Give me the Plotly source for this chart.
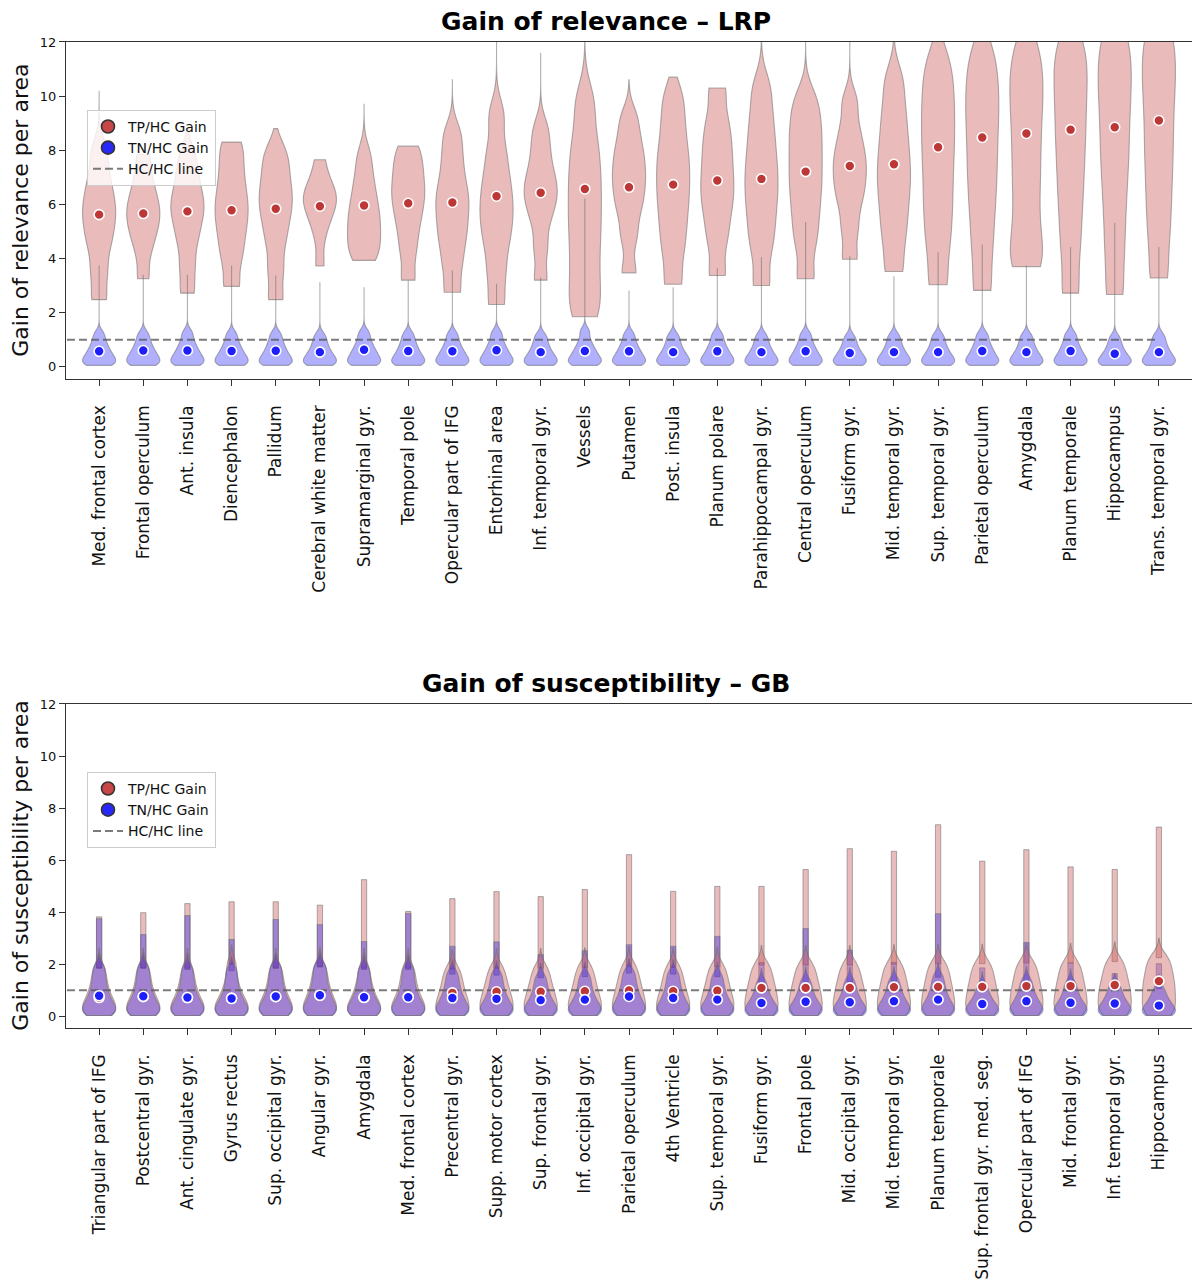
import plotly.graph_objects as go

# ---------------- data ----------------
lrp_regions = ["Med. frontal cortex", "Frontal operculum", "Ant. insula", "Diencephalon", "Pallidum",
               "Cerebral white matter", "Supramarginal gyr.", "Temporal pole", "Opercular part of IFG",
               "Entorhinal area", "Inf. temporal gyr.", "Vessels", "Putamen", "Post. insula",
               "Planum polare", "Parahippocampal gyr.", "Central operculum", "Fusiform gyr.",
               "Mid. temporal gyr.", "Sup. temporal gyr.", "Parietal operculum", "Amygdala",
               "Planum temporale", "Hippocampus", "Trans. temporal gyr."]

# estimated distribution quantiles (min ... upper body) per area, TP/HC gain (LRP)
lrp_tp_q = [
    [2.48, 3.5, 4.4, 5.0, 5.5, 5.95, 6.45, 7.1, 8.0],
    [3.25, 4.3, 4.9, 5.3, 5.65, 6.0, 6.4, 7.0, 7.85],
    [2.72, 3.7, 4.6, 5.2, 5.7, 6.05, 6.5, 7.1, 7.8],
    [2.97, 4.0, 4.7, 5.3, 5.8, 6.3, 6.9, 7.6, 8.3],
    [2.48, 3.6, 4.6, 5.3, 5.85, 6.3, 6.8, 7.4, 8.0],
    [3.72, 4.9, 5.5, 5.85, 6.1, 6.3, 6.55, 6.9, 7.65],
    [3.93, 4.3, 4.7, 5.1, 5.5, 5.9, 6.4, 7.0, 7.8],
    [3.2, 4.3, 5.1, 5.7, 6.2, 6.6, 7.1, 7.6, 8.15],
    [2.75, 3.8, 4.6, 5.2, 5.8, 6.3, 6.9, 7.7, 8.6],
    [2.3, 3.5, 4.5, 5.2, 5.8, 6.4, 7.1, 8.0, 9.3],
    [3.2, 4.4, 5.4, 6.0, 6.4, 6.8, 7.3, 8.0, 8.8],
    [1.85, 2.7, 3.7, 4.7, 5.6, 6.5, 7.4, 8.4, 9.8],
    [3.47, 4.8, 5.7, 6.3, 6.8, 7.3, 7.8, 8.4, 9.2],
    [3.05, 4.3, 5.2, 6.0, 6.7, 7.4, 8.1, 9.0, 10.0],
    [3.37, 4.7, 5.6, 6.3, 6.9, 7.6, 8.3, 9.1, 10.3],
    [3.0, 4.4, 5.3, 6.1, 6.8, 7.5, 8.3, 9.2, 10.3],
    [3.25, 4.6, 5.5, 6.3, 7.0, 7.7, 8.4, 9.1, 9.9],
    [3.97, 5.1, 6.0, 6.6, 7.1, 7.6, 8.1, 8.8, 9.8],
    [3.52, 4.7, 5.6, 6.4, 7.1, 7.8, 8.6, 9.5, 10.6],
    [3.03, 4.5, 5.6, 6.6, 7.6, 8.5, 9.4, 10.3, 11.3],
    [2.82, 4.4, 5.7, 6.8, 7.8, 8.8, 9.7, 10.6, 11.6],
    [3.7, 4.3, 5.5, 6.7, 7.8, 8.9, 9.9, 10.8, 11.8],
    [2.72, 4.5, 5.9, 7.1, 8.2, 9.2, 10.2, 11.1, 12.0],
    [2.67, 4.4, 5.9, 7.2, 8.3, 9.4, 10.4, 11.3, 12.3],
    [3.28, 4.9, 6.2, 7.4, 8.5, 9.6, 10.6, 11.5, 12.5],
]
lrp_tp_max = [10.2, 7.85, 8.8, 8.3, 8.8, 7.65, 9.72, 8.15, 10.6, 13.0, 11.6, 13.0, 10.6, 10.7,
              10.3, 13.5, 13.0, 13.0, 13.5, 13.5, 13.5, 14.0, 14.0, 14.5, 14.5]
lrp_tp_center = [5.62, 5.66, 5.74, 5.78, 5.84, 5.93, 5.96, 6.04, 6.07, 6.30, 6.43, 6.57, 6.63,
                 6.73, 6.88, 6.94, 7.21, 7.42, 7.48, 8.11, 8.47, 8.62, 8.76, 8.85, 9.10]

# TN/HC gain (LRP)
lrp_tn_q = [
    [0.05, 0.12, 0.2, 0.3, 0.42, 0.55, 0.71, 0.92, 1.2],
    [0.05, 0.12, 0.21, 0.31, 0.43, 0.56, 0.72, 0.93, 1.2],
    [0.05, 0.12, 0.21, 0.31, 0.43, 0.57, 0.73, 0.95, 1.25],
    [0.05, 0.12, 0.2, 0.3, 0.42, 0.55, 0.71, 0.92, 1.2],
    [0.05, 0.12, 0.2, 0.3, 0.42, 0.56, 0.72, 0.93, 1.2],
    [0.05, 0.11, 0.19, 0.29, 0.4, 0.53, 0.69, 0.9, 1.15],
    [0.05, 0.12, 0.21, 0.32, 0.44, 0.58, 0.74, 0.96, 1.25],
    [0.05, 0.12, 0.2, 0.3, 0.42, 0.56, 0.72, 0.93, 1.2],
    [0.05, 0.12, 0.2, 0.3, 0.42, 0.55, 0.71, 0.92, 1.2],
    [0.05, 0.12, 0.21, 0.31, 0.43, 0.57, 0.73, 0.95, 1.25],
    [0.05, 0.11, 0.19, 0.29, 0.4, 0.53, 0.69, 0.9, 1.15],
    [0.05, 0.12, 0.2, 0.3, 0.42, 0.56, 0.72, 0.95, 1.3],
    [0.05, 0.12, 0.2, 0.3, 0.42, 0.55, 0.71, 0.92, 1.2],
    [0.05, 0.11, 0.19, 0.29, 0.4, 0.53, 0.69, 0.9, 1.15],
    [0.05, 0.12, 0.2, 0.3, 0.42, 0.55, 0.71, 0.92, 1.2],
    [0.05, 0.11, 0.19, 0.29, 0.4, 0.53, 0.69, 0.9, 1.15],
    [0.05, 0.12, 0.2, 0.3, 0.42, 0.55, 0.71, 0.92, 1.2],
    [0.05, 0.1, 0.18, 0.27, 0.38, 0.5, 0.65, 0.85, 1.1],
    [0.05, 0.11, 0.19, 0.29, 0.4, 0.53, 0.69, 0.9, 1.15],
    [0.05, 0.11, 0.19, 0.29, 0.4, 0.53, 0.69, 0.9, 1.15],
    [0.05, 0.12, 0.2, 0.3, 0.42, 0.56, 0.72, 0.93, 1.2],
    [0.05, 0.11, 0.19, 0.29, 0.4, 0.53, 0.69, 0.9, 1.15],
    [0.05, 0.12, 0.2, 0.3, 0.42, 0.56, 0.72, 0.93, 1.2],
    [0.05, 0.1, 0.17, 0.26, 0.36, 0.48, 0.63, 0.83, 1.08],
    [0.05, 0.11, 0.19, 0.29, 0.4, 0.53, 0.69, 0.9, 1.15],
]
lrp_tn_max = [3.74, 3.4, 3.4, 3.74, 3.37, 3.12, 2.94, 3.2, 3.56, 3.07, 3.3, 6.22, 2.82, 2.94,
              3.64, 4.05, 5.35, 4.1, 3.34, 4.23, 4.52, 3.74, 4.42, 5.32, 4.42]
lrp_tn_center = [0.57, 0.60, 0.60, 0.58, 0.59, 0.54, 0.63, 0.58, 0.57, 0.61, 0.54, 0.58, 0.57,
                 0.54, 0.57, 0.54, 0.57, 0.51, 0.54, 0.54, 0.58, 0.54, 0.58, 0.48, 0.54]

gb_regions = ["Triangular part of IFG", "Postcentral gyr.", "Ant. cingulate gyr.", "Gyrus rectus",
              "Sup. occipital gyr.", "Angular gyr.", "Amygdala", "Med. frontal cortex",
              "Precentral gyr.", "Supp. motor cortex", "Sup. frontal gyr.", "Inf. occipital gyr.",
              "Parietal operculum", "4th Ventricle", "Sup. temporal gyr.", "Fusiform gyr.",
              "Frontal pole", "Mid. occipital gyr.", "Mid. temporal gyr.", "Planum temporale",
              "Sup. frontal gyr. med. seg.", "Opercular part of IFG", "Mid. frontal gyr.",
              "Inf. temporal gyr.", "Hippocampus"]

# TP/HC gain (GB)
gb_tp_q = [
    [0.03, 0.14, 0.27, 0.42, 0.6, 0.82, 1.1, 1.45, 1.85],
    [0.03, 0.14, 0.27, 0.42, 0.6, 0.82, 1.1, 1.45, 1.85],
    [0.03, 0.14, 0.27, 0.41, 0.58, 0.8, 1.08, 1.42, 1.85],
    [0.03, 0.13, 0.26, 0.4, 0.56, 0.78, 1.05, 1.45, 2.0],
    [0.03, 0.14, 0.27, 0.42, 0.6, 0.82, 1.1, 1.45, 1.85],
    [0.03, 0.15, 0.29, 0.45, 0.64, 0.87, 1.15, 1.5, 1.9],
    [0.03, 0.12, 0.25, 0.39, 0.56, 0.78, 1.05, 1.4, 1.85],
    [0.03, 0.14, 0.27, 0.42, 0.6, 0.82, 1.1, 1.45, 1.85],
    [0.03, 0.17, 0.33, 0.5, 0.7, 0.92, 1.18, 1.48, 1.82],
    [0.03, 0.18, 0.35, 0.53, 0.73, 0.95, 1.2, 1.5, 1.85],
    [0.03, 0.18, 0.35, 0.53, 0.73, 0.95, 1.2, 1.5, 1.85],
    [0.03, 0.18, 0.36, 0.54, 0.74, 0.97, 1.23, 1.53, 1.88],
    [0.03, 0.19, 0.37, 0.56, 0.77, 1.0, 1.26, 1.56, 1.92],
    [0.03, 0.18, 0.36, 0.54, 0.74, 0.97, 1.23, 1.53, 1.88],
    [0.03, 0.19, 0.37, 0.56, 0.76, 0.99, 1.25, 1.55, 1.9],
    [0.03, 0.2, 0.4, 0.61, 0.83, 1.06, 1.32, 1.62, 1.97],
    [0.03, 0.2, 0.4, 0.61, 0.83, 1.06, 1.32, 1.62, 1.97],
    [0.03, 0.2, 0.4, 0.61, 0.83, 1.06, 1.32, 1.62, 1.97],
    [0.03, 0.21, 0.42, 0.63, 0.85, 1.09, 1.35, 1.65, 2.0],
    [0.03, 0.21, 0.42, 0.64, 0.86, 1.1, 1.37, 1.67, 2.02],
    [0.03, 0.21, 0.42, 0.64, 0.86, 1.1, 1.37, 1.67, 2.02],
    [0.03, 0.22, 0.44, 0.66, 0.89, 1.13, 1.4, 1.7, 2.05],
    [0.03, 0.22, 0.44, 0.66, 0.89, 1.13, 1.4, 1.7, 2.05],
    [0.03, 0.23, 0.46, 0.69, 0.92, 1.16, 1.43, 1.74, 2.1],
    [0.03, 0.26, 0.52, 0.78, 1.04, 1.3, 1.58, 1.9, 2.25],
]
gb_tp_max = [3.82, 3.98, 4.33, 4.4, 4.4, 4.27, 5.25, 4.03, 4.52, 4.79, 4.6, 4.87, 6.21, 4.8,
             4.99, 4.99, 5.64, 6.44, 6.34, 7.36, 5.96, 6.4, 5.74, 5.64, 7.27]
gb_tp_center = [0.72, 0.75, 0.72, 0.70, 0.75, 0.80, 0.72, 0.75, 0.90, 0.94, 0.94, 0.96, 0.99,
                0.96, 0.98, 1.09, 1.09, 1.09, 1.12, 1.13, 1.13, 1.16, 1.16, 1.20, 1.35]

# TN/HC gain (GB)
gb_tn_q = [
    [0.03, 0.14, 0.27, 0.42, 0.6, 0.82, 1.1, 1.45, 1.85],
    [0.03, 0.14, 0.27, 0.42, 0.6, 0.82, 1.1, 1.45, 1.85],
    [0.03, 0.13, 0.26, 0.4, 0.57, 0.78, 1.05, 1.4, 1.8],
    [0.03, 0.12, 0.24, 0.38, 0.54, 0.74, 1.0, 1.35, 1.75],
    [0.03, 0.14, 0.27, 0.42, 0.6, 0.82, 1.1, 1.45, 1.85],
    [0.03, 0.15, 0.29, 0.45, 0.64, 0.87, 1.15, 1.5, 1.9],
    [0.03, 0.13, 0.26, 0.4, 0.57, 0.78, 1.05, 1.4, 1.8],
    [0.03, 0.13, 0.26, 0.4, 0.57, 0.78, 1.05, 1.4, 1.8],
    [0.03, 0.12, 0.24, 0.38, 0.53, 0.72, 0.96, 1.26, 1.62],
    [0.03, 0.12, 0.23, 0.36, 0.51, 0.69, 0.92, 1.22, 1.58],
    [0.03, 0.11, 0.21, 0.33, 0.47, 0.64, 0.86, 1.14, 1.48],
    [0.03, 0.11, 0.22, 0.34, 0.48, 0.66, 0.88, 1.17, 1.52],
    [0.03, 0.13, 0.26, 0.4, 0.56, 0.76, 1.0, 1.3, 1.66],
    [0.03, 0.12, 0.24, 0.38, 0.53, 0.72, 0.96, 1.26, 1.62],
    [0.03, 0.11, 0.22, 0.34, 0.48, 0.66, 0.88, 1.17, 1.52],
    [0.03, 0.09, 0.18, 0.28, 0.4, 0.54, 0.72, 0.96, 1.28],
    [0.03, 0.1, 0.19, 0.3, 0.42, 0.57, 0.76, 1.01, 1.33],
    [0.03, 0.09, 0.18, 0.29, 0.41, 0.56, 0.75, 1.0, 1.32],
    [0.03, 0.1, 0.2, 0.31, 0.44, 0.59, 0.78, 1.03, 1.35],
    [0.03, 0.11, 0.22, 0.34, 0.48, 0.65, 0.87, 1.15, 1.5],
    [0.03, 0.08, 0.16, 0.26, 0.36, 0.48, 0.64, 0.86, 1.15],
    [0.03, 0.1, 0.2, 0.31, 0.44, 0.59, 0.78, 1.03, 1.35],
    [0.03, 0.09, 0.18, 0.28, 0.4, 0.54, 0.72, 0.96, 1.26],
    [0.03, 0.09, 0.17, 0.27, 0.38, 0.51, 0.68, 0.9, 1.18],
    [0.03, 0.07, 0.14, 0.23, 0.33, 0.45, 0.6, 0.8, 1.06],
]
gb_tn_max = [3.75, 3.14, 3.87, 2.95, 3.72, 3.52, 2.87, 3.95, 2.69, 2.86, 2.37, 2.52, 2.75, 2.69,
             3.07, 2.07, 3.37, 2.54, 2.07, 3.94, 1.86, 2.84, 2.05, 1.64, 2.02]
gb_tn_center = [0.79, 0.77, 0.72, 0.68, 0.76, 0.81, 0.73, 0.73, 0.70, 0.67, 0.62, 0.64, 0.76,
                0.70, 0.64, 0.51, 0.56, 0.54, 0.58, 0.64, 0.47, 0.58, 0.52, 0.49, 0.41]

hc_level = 1.0
y_ticks = [0, 2, 4, 6, 8, 10, 12]

# ---------------- styling ----------------
FONT = "DejaVu Sans"
RED_FILL = "rgba(205,92,92,0.42)"
BLUE_FILL = "rgba(0,0,255,0.31)"
EDGE = "rgba(110,110,110,0.55)"
RED_DOT = "rgb(190,55,55)"
BLUE_DOT = "rgb(30,30,250)"

fig = go.Figure()


def violins(pos, qs, maxes, fill, bw, xa, ya, needle_w):
    for i, (q, mx) in enumerate(zip(qs, maxes)):
        b = bw(q) if callable(bw) else bw
        top = mx if needle_w is None else min(mx, q[-1] + 2.5 * b)
        fig.add_trace(go.Violin(x=[pos[i]] * len(q), y=q, xaxis=xa, yaxis=ya, width=0.75,
                                scalemode="width", spanmode="manual", span=[q[0], top],
                                bandwidth=b, fillcolor=fill,
                                line=dict(color=EDGE, width=1.1), points=False,
                                hoverinfo="skip", showlegend=False))
    if needle_w is not None:
        base = [q[-1] for q in qs]
        fig.add_trace(go.Bar(x=pos, y=[m - b0 for m, b0 in zip(maxes, base)], base=base,
                             width=needle_w, xaxis=xa, yaxis=ya,
                             marker=dict(color=fill, line=dict(color=EDGE, width=1)),
                             hoverinfo="skip", showlegend=False))


def add_panel(regions, tp_q, tp_max, tp_c, tn_q, tn_max, tn_c, xa, ya, legend,
              bw_tp, bw_tn, tp_needle, tn_needle):
    pos = list(range(len(regions)))
    violins(pos, tp_q, tp_max, RED_FILL, bw_tp, xa, ya, tp_needle)
    violins(pos, tn_q, tn_max, BLUE_FILL, bw_tn, xa, ya, tn_needle)
    fig.add_trace(go.Scatter(x=[-1, pos[-1]], y=[hc_level, hc_level], xaxis=xa, yaxis=ya,
                             mode="lines", name="HC/HC line", legend=legend, legendrank=3,
                             line=dict(color="rgba(90,90,90,0.8)", width=2, dash="8px,4px"),
                             hoverinfo="skip"))
    fig.add_trace(go.Scatter(x=pos, y=tp_c, xaxis=xa, yaxis=ya, mode="markers",
                             marker=dict(size=10, color=RED_DOT, line=dict(color="white", width=1.6)),
                             showlegend=False, hoverinfo="skip"))
    fig.add_trace(go.Scatter(x=pos, y=tn_c, xaxis=xa, yaxis=ya, mode="markers",
                             marker=dict(size=10, color=BLUE_DOT, line=dict(color="white", width=1.6)),
                             showlegend=False, hoverinfo="skip"))
    # legend entries
    fig.add_trace(go.Scatter(x=[None], y=[None], xaxis=xa, yaxis=ya, mode="markers",
                             name="TP/HC Gain", legend=legend, legendrank=1,
                             marker=dict(size=13, color="rgb(200,70,70)", line=dict(color="#333", width=1.6))))
    fig.add_trace(go.Scatter(x=[None], y=[None], xaxis=xa, yaxis=ya, mode="markers",
                             name="TN/HC Gain", legend=legend, legendrank=2,
                             marker=dict(size=13, color="rgb(40,40,250)", line=dict(color="#333", width=1.6))))


def spread_bw(q):
    return max(0.5, 0.8 * (q[7] - q[1]) / 6)


add_panel(lrp_regions, lrp_tp_q, lrp_tp_max, lrp_tp_center, lrp_tn_q, lrp_tn_max, lrp_tn_center,
          "x", "y", "legend", spread_bw, 0.17, None, None)
add_panel(gb_regions, gb_tp_q, gb_tp_max, gb_tp_center, gb_tn_q, gb_tn_max, gb_tn_center,
          "x2", "y2", "legend2", 0.3, 0.22, 0.12, 0.12)

W, H, L = 1192, 1280, 66


def py(p):
    # small empirical correction for the rendered page offset
    p = p - 6 + 0.004 * p
    return 1 - p / H


def px(p):
    return (p - L) / (W - L)


xa_common = dict(range=[-0.75, 24.75], tickmode="array", tickvals=list(range(25)), tickangle=-90,
                 ticks="outside", ticklen=6, tickcolor="#333", showline=True, linecolor="#333",
                 linewidth=1, mirror=True, showgrid=False, zeroline=False,
                 tickfont=dict(family=FONT, size=17, color="#111"), ticklabelstandoff=12)
ya_common = dict(range=[-0.47, 12], tickmode="array", tickvals=y_ticks, ticks="outside", ticklen=6,
                 tickcolor="#333", showline=True, linecolor="#333", linewidth=1, showgrid=False,
                 zeroline=False, tickfont=dict(family=FONT, size=13, color="#111"))

legend_common = dict(xanchor="left", yanchor="top", bgcolor="rgba(255,255,255,0.8)",
                     bordercolor="#cccccc", borderwidth=1, font=dict(family=FONT, size=14, color="#111"),
                     tracegroupgap=0, itemwidth=30)

fig.update_layout(
    width=W, height=H, margin=dict(l=L, r=0, t=0, b=0),
    paper_bgcolor="white", plot_bgcolor="white", violinmode="overlay", barmode="overlay",
    font=dict(family=FONT),
    xaxis=dict(xa_common, domain=[0, 1], anchor="y", ticktext=lrp_regions),
    yaxis=dict(ya_common, domain=[py(379), py(41)], anchor="x"),
    xaxis2=dict(xa_common, domain=[0, 1], anchor="y2", ticktext=gb_regions),
    yaxis2=dict(ya_common, domain=[py(1029), py(704)], anchor="x2"),
    legend=dict(legend_common, x=px(87), y=py(109)),
    legend2=dict(legend_common, x=px(87), y=py(772)),
    annotations=[
        dict(text="Gain of relevance – LRP", xref="paper", yref="paper", x=px(606), y=py(20),
             xanchor="center", yanchor="middle", showarrow=False,
             font=dict(family=FONT, size=25, color="#000", weight="bold")),
        dict(text="Gain of susceptibility – GB", xref="paper", yref="paper", x=px(606), y=py(683),
             xanchor="center", yanchor="middle", showarrow=False,
             font=dict(family=FONT, size=25, color="#000", weight="bold")),
        dict(text="Gain of relevance per area", xref="paper", yref="paper", x=px(21), y=py(210),
             xanchor="center", yanchor="middle", textangle=-90, showarrow=False,
             font=dict(family=FONT, size=22, color="#111")),
        dict(text="Gain of susceptibility per area", xref="paper", yref="paper", x=px(21), y=py(866),
             xanchor="center", yanchor="middle", textangle=-90, showarrow=False,
             font=dict(family=FONT, size=22, color="#111")),
    ],
)

fig.write_html(
    "out.html",
    config={"displayModeBar": False},
    post_script=("document.body.style.margin='0px';"
                 "var gd=document.querySelector('.plotly-graph-div');"
                 "gd.style.position='absolute';gd.style.top='0px';gd.style.left='0px';"),
)
